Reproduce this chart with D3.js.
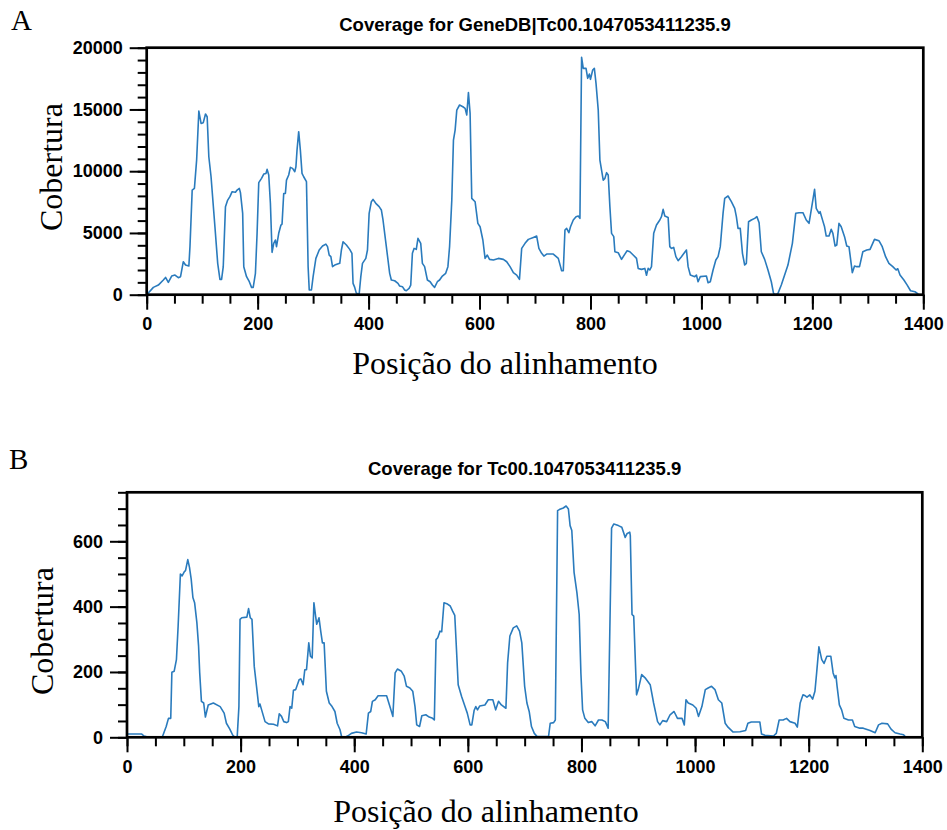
<!DOCTYPE html>
<html>
<head>
<meta charset="utf-8">
<script src="https://cdn.jsdelivr.net/npm/d3@7"></script>
<style>
  body { margin: 0; background: #fff; }
  svg { display: block; }
</style>
</head>
<body>
<div id="chart"></div>
<script>
// --- Data ---
const posA = [0,12,21,30,34,39,45,51,57,61,66,70,76,78,82,86,90,94,98,102,106,109,112,116,123,128,132,135,138,142,146,150,154,160,163,167,169,173,175,180,185,189,192,196,199,202,207,211,215,217,220,223,226,229,232,234,238,242,244,247,250,252,256,259,263,267,269,271,274,277,280,283,288,291,293,297,300,305,311,317,323,326,329,332,335,339,344,348,351,354,360,366,370,372,375,378,383,386,389,395,398,401,405,408,413,419,423,426,432,438,441,447,453,456,461,465,468,473,476,479,482,486,489,494,497,501,506,511,515,519,524,528,533,539,543,546,550,553,556,559,564,570,574,577,580,583,586,592,597,601,606,610,614,618,625,634,643,649,655,661,667,672,676,682,688,697,703,707,712,716,721,733,742,746,748,751,754,757,761,764,769,774,778,781,784,787,792,795,798,800,804,807,810,814,817,820,823,826,829,832,835,838,842,844,850,856,862,866,871,877,883,886,892,898,901,904,907,910,914,919,925,928,931,934,940,943,946,950,954,958,964,973,976,980,988,991,994,998,1009,1012,1016,1021,1026,1030,1034,1039,1042,1048,1054,1060,1063,1066,1070,1074,1078,1081,1085,1090,1096,1100,1104,1108,1114,1120,1126,1130,1134,1138,1144,1150,1156,1164,1170,1176,1183,1189,1194,1198,1204,1207,1212,1214,1218,1222,1225,1230,1234,1237,1241,1244,1248,1252,1258,1262,1266,1268,1272,1276,1280,1285,1291,1298,1304,1312,1320,1326,1332,1338,1345,1351,1354,1358,1365,1371,1377,1385,1391];
const covA = [0,594,780,1190,1400,1000,1510,1590,1380,1460,2670,2400,2320,3890,8470,8610,10900,14870,13870,13930,14630,14410,11170,9550,5500,2540,1240,1240,2270,7130,7660,7940,8340,8290,8470,8610,8260,6590,2270,1460,1050,590,590,1730,4970,9070,9420,9770,9820,10150,9690,7400,3430,4160,4430,3890,4970,5640,5720,8200,8200,9280,9690,10310,10230,9960,10360,11710,13200,11710,9820,9550,9150,2270,380,380,1460,2940,3620,3940,4100,3890,3210,3080,2270,2400,2480,2540,3620,4290,4020,3670,3350,920,590,110,50,1460,2540,2940,3620,6590,7530,7720,7400,7130,6860,6050,3890,1730,1190,1130,920,700,650,380,320,510,780,3350,3750,3670,4560,4160,2540,2270,1190,1050,780,590,1050,1190,1510,1730,2270,3890,7660,12520,13330,14950,15360,15220,15090,14550,16360,14680,7800,7530,5780,5500,4430,2940,3210,2860,2810,2940,2860,2670,2270,1780,1590,1240,3750,4160,4480,4640,4750,3750,3350,3130,3290,3290,2940,2270,1940,1940,5240,5370,5020,5500,6050,6320,6370,6180,19220,18330,18330,17520,17870,17440,18190,18330,17110,14950,10900,10090,9280,9420,9880,9690,7130,4970,4700,3480,3400,2860,3290,3560,3480,3210,2940,2130,2050,2130,1570,2130,2000,2270,4970,5640,6050,6320,6910,6370,6260,3890,3750,3830,3080,2750,3080,3620,2270,1590,1460,1590,1050,1460,1510,970,1050,2000,2810,3080,3890,6590,7800,7990,7530,6990,6320,5370,5370,3350,2400,2540,5910,6050,6180,6320,5830,3480,2860,2000,1050,110,0,110,780,1590,2400,4160,6590,6640,6640,6050,5780,6860,8530,6990,6590,6720,6100,5500,4750,4750,5290,4970,3940,4020,5780,5500,4700,3940,3890,3210,1780,2320,2270,2270,3480,3620,3670,4480,4370,3890,3080,2540,2270,2000,2100,1590,1190,780,320,240,50];

const posB = [1,26,30,38,62,69,73,77,79,83,87,90,94,97,101,103,107,110,113,116,119,123,126,128,131,135,138,143,152,164,171,175,181,186,190,194,197,199,202,211,214,217,220,224,228,232,234,237,243,249,258,265,268,272,276,281,284,287,290,293,297,303,306,310,313,316,320,323,326,329,332,334,338,341,344,347,351,356,361,366,370,375,378,384,390,395,404,413,421,425,429,432,437,442,457,462,468,472,476,483,488,492,498,503,507,510,515,519,526,532,538,541,544,547,551,554,558,563,569,573,577,580,583,589,595,599,604,607,611,614,617,621,630,636,644,649,654,659,667,670,674,680,686,691,695,700,704,708,712,717,722,742,745,751,754,758,761,768,773,777,780,783,787,792,796,799,802,806,812,818,824,830,836,842,847,853,857,865,871,877,880,885,886,889,892,897,900,906,912,921,927,934,938,943,950,956,963,969,977,981,984,988,996,1002,1006,1012,1018,1023,1029,1035,1041,1047,1053,1058,1067,1079,1089,1093,1099,1114,1117,1123,1138,1143,1148,1155,1161,1167,1176,1180,1185,1190,1194,1197,1202,1207,1211,1214,1218,1223,1227,1232,1239,1243,1246,1248,1250,1254,1258,1262,1270,1277,1281,1290,1296,1308,1317,1323,1329,1339,1345,1352,1361,1367,1371];
const covB = [10,10,4,0,0,33,58,58,199,202,238,340,500,494,507,510,544,520,484,428,412,351,279,197,110,105,62,99,105,94,74,43,25,7,0,2,94,361,366,368,394,366,361,217,156,94,102,84,48,41,40,35,72,64,48,45,48,94,89,144,146,176,179,161,207,207,289,248,243,412,371,346,366,325,289,289,141,105,94,79,43,23,0,0,6,12,16,14,10,74,79,110,115,127,127,99,64,197,209,202,187,156,151,141,94,38,33,66,69,62,58,53,299,305,325,323,412,409,402,387,373,269,161,125,94,74,38,38,82,94,84,96,99,115,115,84,110,99,89,228,310,335,341,325,289,156,105,79,33,12,2,2,43,45,53,694,697,702,708,699,648,633,505,443,376,197,84,58,45,48,35,53,53,48,28,640,653,648,643,612,623,628,617,376,371,130,146,192,182,161,105,48,38,51,48,69,79,58,58,38,115,105,99,89,64,94,146,151,156,146,115,105,43,31,16,17,21,43,47,47,10,6,4,12,53,53,58,48,43,31,105,130,127,123,130,117,141,197,277,238,226,248,248,197,182,189,156,99,84,58,53,53,33,28,28,21,14,38,43,41,25,14,10,8,0];

// --- Tick values ---
const xMajor = [0, 200, 400, 600, 800, 1000, 1200, 1400];
const xMinor = d3.range(0, 1401, 50);
const yMajorA = [0, 5000, 10000, 15000, 20000];
const yMinorA = d3.range(0, 20001, 1000);
const yMajorB = [0, 200, 400, 600];
const yMinorB = d3.range(0, 751, 50);

const titleA = "Coverage for GeneDB|Tc00.1047053411235.9";
const titleB = "Coverage for Tc00.1047053411235.9";
const xLabel = "Posição do alinhamento";
const yLabel = "Cobertura";

const lineColor = "#2a7bbd";
const sansBold = "'Liberation Sans', Arial, sans-serif";
const serif = "'Liberation Serif', 'Times New Roman', serif";

const svg = d3.select("#chart")
  .append("svg")
  .attr("width", 947)
  .attr("height", 830);

// --- One coverage panel ---
function drawPanel(cfg) {
  const x = d3.scaleLinear().domain([0, 1400]).range([cfg.left, cfg.right]);
  const y = d3.scaleLinear().domain([0, cfg.yMax]).range([cfg.bottom, cfg.top]);

  const g = svg.append("g");

  // minor ticks first, then major ones with labels
  g.append("g")
    .attr("transform", `translate(0,${cfg.bottom})`)
    .call(d3.axisBottom(x).tickValues(xMinor).tickSize(9).tickSizeOuter(0).tickFormat(""));
  g.append("g")
    .attr("transform", `translate(0,${cfg.bottom})`)
    .call(d3.axisBottom(x).tickValues(xMajor).tickSize(15).tickSizeOuter(0).tickPadding(8).tickFormat(d3.format("d")));
  g.append("g")
    .attr("transform", `translate(${cfg.left},0)`)
    .call(d3.axisLeft(y).tickValues(cfg.yMinor).tickSize(9).tickSizeOuter(0).tickFormat(""));
  g.append("g")
    .attr("transform", `translate(${cfg.left},0)`)
    .call(d3.axisLeft(y).tickValues(cfg.yMajor).tickSize(17).tickSizeOuter(0).tickPadding(7).tickFormat(d3.format("d")));

  g.selectAll(".domain").remove();
  g.selectAll(".tick line").attr("stroke", "#000").attr("stroke-width", 2);
  g.selectAll(".tick text")
    .attr("fill", "#000")
    .style("font-family", sansBold)
    .style("font-weight", "bold")
    .style("font-size", "18px");

  // coverage line
  const line = d3.line()
    .x((d, i) => x(cfg.pos[i]))
    .y(d => y(d));

  g.append("path")
    .datum(cfg.cov)
    .attr("d", line)
    .attr("fill", "none")
    .attr("stroke", lineColor)
    .attr("stroke-width", 1.6)
    .attr("stroke-linejoin", "round");

  // frame
  g.append("rect")
    .attr("x", cfg.left)
    .attr("y", cfg.top)
    .attr("width", cfg.right - cfg.left)
    .attr("height", cfg.bottom - cfg.top)
    .attr("fill", "none")
    .attr("stroke", "#000")
    .attr("stroke-width", 2.7);

  // title
  g.append("text")
    .attr("x", (cfg.left + cfg.right) / 2)
    .attr("y", cfg.top - 17)
    .attr("text-anchor", "middle")
    .style("font-family", sansBold)
    .style("font-weight", "bold")
    .style("font-size", "18.5px")
    .text(cfg.title);

  // panel letter
  g.append("text")
    .attr("x", cfg.letterX)
    .attr("y", cfg.letterY)
    .style("font-family", serif)
    .style("font-size", "29px")
    .text(cfg.letter);

  // axis titles
  g.append("text")
    .attr("x", cfg.xLabelX)
    .attr("y", cfg.xLabelY)
    .attr("text-anchor", "middle")
    .style("font-family", serif)
    .style("font-size", "32px")
    .text(xLabel);

  g.append("text")
    .attr("transform", `translate(${cfg.yLabelX},${cfg.yLabelY}) rotate(-90)`)
    .attr("text-anchor", "middle")
    .style("font-family", serif)
    .style("font-size", "32px")
    .text(yLabel);
}

drawPanel({
  pos: posA, cov: covA, yMax: 20000, yMajor: yMajorA, yMinor: yMinorA,
  left: 146.7, right: 923.3, top: 47.7, bottom: 294.7,
  title: titleA, letter: "A", letterX: 11, letterY: 30,
  xLabelX: 505, xLabelY: 374, yLabelX: 61.5, yLabelY: 167
});

drawPanel({
  pos: posB, cov: covB, yMax: 750, yMajor: yMajorB, yMinor: yMinorB,
  left: 127, right: 922.3, top: 492.3, bottom: 737.3,
  title: titleB, letter: "B", letterX: 9, letterY: 469,
  xLabelX: 486, xLabelY: 822, yLabelX: 53, yLabelY: 631
});
</script>
</body>
</html>
